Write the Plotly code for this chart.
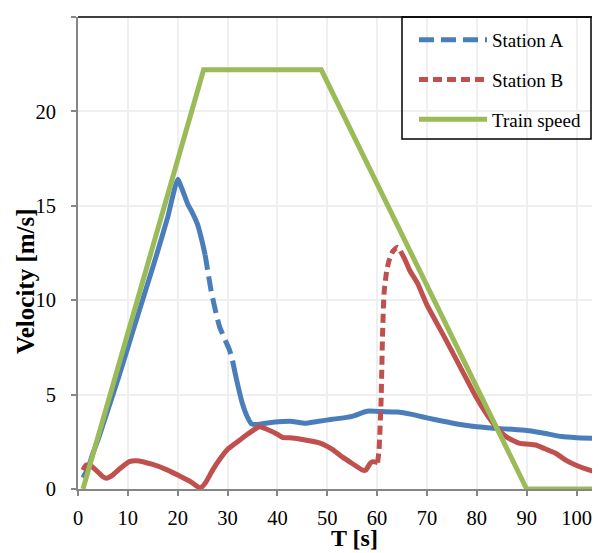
import plotly.graph_objects as go

# ---------------- data ----------------
# Train speed
train_t = [1, 25.2, 48.8, 90, 108]
train_v = [0, 22.2, 22.2, 0, 0]

# Station A (solid - dashed - solid)
a1_t = [1, 2, 3, 4, 5, 6, 8, 10, 12, 14, 16, 18, 20, 21, 22, 23, 24, 25, 25.5]
a1_v = [0.6, 1.1, 1.9, 2.6, 3.4, 4.2, 5.8, 7.5, 9.2, 10.9, 12.6, 14.4, 16.4, 15.8, 15.1, 14.6, 14.0, 13.0, 12.4]
a2_t = [25.5, 26, 26.7, 27.7, 28.4, 29.5, 30.4, 31]
a2_v = [12.4, 11.6, 10.5, 9.3, 8.6, 7.9, 7.36, 6.8]
a3_t = [31, 31.8, 33, 34, 34.8, 36, 38, 41, 43, 45.6, 48, 51, 55, 58, 61, 64, 67, 70, 73, 77, 80, 84, 87, 90, 93, 97, 100, 104, 108]
a3_v = [6.8, 5.8, 4.5, 3.8, 3.45, 3.42, 3.5, 3.57, 3.58, 3.48, 3.58, 3.69, 3.85, 4.12, 4.1, 4.08, 3.95, 3.77, 3.6, 3.4, 3.3, 3.21, 3.16, 3.1, 2.98, 2.78, 2.72, 2.68, 2.64]

# Station B (solid - dashed - solid)
b1_t = [1, 1.6, 2.7, 4, 5, 5.7, 7, 8.5, 10.3, 11.7, 15, 18, 20.3, 22.5, 24.5, 25.5, 27, 28.5, 29.9, 32, 34, 36.4, 38, 40, 41, 43, 45, 48.7, 51, 53, 55, 57.1, 57.7, 58.6, 59.1, 60.1]
b1_v = [1.0, 1.27, 1.2, 0.9, 0.65, 0.57, 0.75, 1.1, 1.45, 1.5, 1.3, 1.0, 0.7, 0.4, 0.05, 0.3, 1.0, 1.6, 2.07, 2.5, 2.9, 3.3, 3.15, 2.9, 2.74, 2.7, 2.62, 2.42, 2.1, 1.7, 1.35, 1.0, 1.0, 1.35, 1.45, 1.4]
b2_t = [60.1, 60.4, 60.8, 61.1, 61.4, 61.9, 62.4, 63.2, 64.1, 64.7]
b2_v = [1.4, 2.1, 4.7, 8.25, 10.4, 11.5, 12.1, 12.6, 12.8, 12.6]
b3_t = [64.7, 65.5, 66.5, 68.1, 70, 73.8, 77, 79.8, 82, 83.8, 86, 88.5, 90, 91.8, 93.5, 95.8, 98, 99.8, 102, 105, 108]
b3_v = [12.6, 12.2, 11.6, 10.9, 9.75, 7.9, 6.3, 4.9, 3.95, 3.3, 2.75, 2.43, 2.38, 2.33, 2.15, 1.89, 1.5, 1.27, 1.05, 0.83, 0.7]

x_ticks = [0, 10, 20, 30, 40, 50, 60, 70, 80, 90, 100]
y_ticks = [0, 5, 10, 15, 20, 25]

BLUE = "#4A7EBB"
RED = "#C0504D"
GREEN = "#9BBB59"
FONT = "Liberation Serif"

fig = go.Figure()

def seg(t, v, color, dash, name, group, show):
    fig.add_trace(go.Scatter(
        x=t, y=v, mode="lines", name=name, legendgroup=group,
        showlegend=show,
        line=dict(color=color, width=5, dash=dash, shape="spline", smoothing=0.5),
    ))

seg(a1_t, a1_v, BLUE, "solid", "Station A", "A", False)
seg(a2_t, a2_v, BLUE, "15px,7px", "Station A", "A", True)
seg(a3_t, a3_v, BLUE, "solid", "Station A", "A", False)
seg(b1_t, b1_v, RED, "solid", "Station B", "B", False)
seg(b2_t, b2_v, RED, "9px,5px", "Station B", "B", True)
seg(b3_t, b3_v, RED, "solid", "Station B", "B", False)
fig.add_trace(go.Scatter(x=train_t, y=train_v, mode="lines", name="Train speed",
                         legendgroup="C", line=dict(color=GREEN, width=5)))

# page offset of the figure inside the browser window (body margin)
OFF = 8
W, H = 600, 553
# plot area in screen pixels
SL, ST, SB = 78, 17, 489
L = SL - OFF
T = ST - OFF
B = H - (SB - OFF)
R = 0
pw, ph = W - L - R, H - T - B
PX_PER_UNIT = 4.985
x_max = pw / PX_PER_UNIT

def px_x(p):  # screen x -> paper
    return (p - OFF - L) / pw

def px_y(p):  # screen y -> paper
    return (SB - p) / ph

fig.update_layout(
    width=W, height=H,
    margin=dict(l=L, r=R, t=T, b=B, autoexpand=False),
    paper_bgcolor="white", plot_bgcolor="white",
    font=dict(family=FONT, color="black", size=20),
    showlegend=True,
    legend=dict(
        x=px_x(414), y=px_y(21), xanchor="left", yanchor="top",
        bgcolor="rgba(0,0,0,0)", borderwidth=0,
        font=dict(family=FONT, size=19, color="black"),
        itemwidth=68, tracegroupgap=12, traceorder="grouped",
    ),
    xaxis=dict(
        range=[0, x_max], tickvals=x_ticks, ticktext=[str(v) for v in x_ticks],
        showgrid=True, gridcolor="#EFEFEF", gridwidth=1.5,
        showline=True, linecolor="#868686", linewidth=2,
        ticks="outside", ticklen=5, tickcolor="#868686", tickwidth=1.5,
        tickfont=dict(family=FONT, size=20.5, color="black"),
        ticklabelstandoff=4, zeroline=False, automargin=False,
    ),
    yaxis=dict(
        range=[0, 25], tickvals=y_ticks, ticktext=[str(v) for v in y_ticks],
        showgrid=True, gridcolor="#EFEFEF", gridwidth=1.5,
        showline=True, linecolor="#868686", linewidth=2,
        ticks="outside", ticklen=5, tickcolor="#868686", tickwidth=1.5,
        tickfont=dict(family=FONT, size=20.5, color="black"),
        ticklabelstandoff=11, zeroline=False, automargin=False,
    ),
    shapes=[
        dict(type="line", xref="paper", yref="paper", x0=0, x1=1, y0=1, y1=1,
             line=dict(color="black", width=1.5)),
        dict(type="rect", xref="paper", yref="paper",
             x0=px_x(402), x1=px_x(591), y0=px_y(139), y1=1,
             line=dict(color="black", width=1.5), fillcolor="rgba(0,0,0,0)"),
    ],
    annotations=[
        dict(text="<b>Velocity [m/s]</b>", xref="paper", yref="paper",
             x=px_x(25), y=px_y(281), xanchor="center", yanchor="middle",
             textangle=-90, showarrow=False,
             font=dict(family=FONT, size=25, color="black")),
        dict(text="<b>T [s]</b>", xref="paper", yref="paper",
             x=px_x(354), y=px_y(538), xanchor="center", yanchor="middle",
             showarrow=False, font=dict(family=FONT, size=24, color="black")),
    ],
)

fig.write_html("out.html")
